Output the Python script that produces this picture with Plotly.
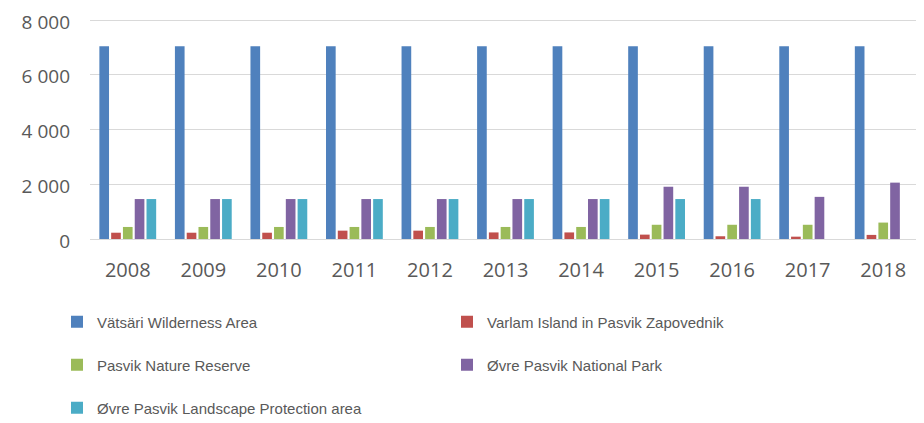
import plotly.graph_objects as go

years = ["2008", "2009", "2010", "2011", "2012", "2013", "2014", "2015", "2016", "2017", "2018"]
vatsari = [7040, 7040, 7040, 7040, 7040, 7040, 7040, 7040, 7040, 7040, 7040]
varlam = [230, 230, 230, 305, 305, 240, 240, 160, 100, 85, 150]
pasvik_nr = [440, 440, 440, 440, 440, 440, 440, 520, 520, 520, 600]
ovre_np = [1460, 1460, 1460, 1460, 1460, 1460, 1460, 1910, 1910, 1540, 2060]
ovre_lpa = [1460, 1460, 1460, 1460, 1460, 1460, 1460, 1460, 1460, None, None]
y_ticks = [0, 2000, 4000, 6000, 8000]

names = ["Vätsäri Wilderness Area", "Varlam Island in Pasvik Zapovednik",
         "Pasvik Nature Reserve", "Øvre Pasvik National Park",
         "Øvre Pasvik Landscape Protection area"]
colors = ["#4F81BD", "#C0504D", "#9BBB59", "#8064A2", "#4BACC6"]
series = [vatsari, varlam, pasvik_nr, ovre_np, ovre_lpa]
legends = ["legend", "legend", "legend2", "legend2", "legend3"]

fig = go.Figure()
for nm, col, vals, lg in zip(names, colors, series, legends):
    fig.add_trace(go.Bar(x=years, y=vals, name=nm, marker_color=col,
                         marker_line_width=0, legend=lg))

W, H = 916, 415  # page body has an 8px margin in the viewer
font_family = "Liberation Sans, Arial, sans-serif"
leg_common = dict(orientation="h", xref="container", yref="container",
                  x=49 / W, xanchor="left", yanchor="middle",
                  entrywidth=345, entrywidthmode="pixels",
                  font=dict(family=font_family, size=15, color="#595959"),
                  bgcolor="rgba(0,0,0,0)", itemclick=False)

fig.update_layout(
    width=W, height=H,
    margin=dict(l=82, r=3, t=11, b=184, autoexpand=False),
    paper_bgcolor="white", plot_bgcolor="white",
    barmode="group", bargap=0.22, bargroupgap=0.18,
    separators=". ",
    font=dict(family="Open Sans, sans-serif", color="#595959"),
    legend=dict(y=1 - 314 / H, **leg_common),
    legend2=dict(y=1 - 357 / H, **leg_common),
    legend3=dict(y=1 - 400 / H, **leg_common),
    xaxis=dict(showgrid=False, showline=False, ticks="", automargin=False,
               tickfont=dict(size=20, color="#595959"),
               ticklabelstandoff=17),
    yaxis=dict(range=[0, 8040], tickvals=y_ticks, automargin=False,
               tickformat=",d", showgrid=True, gridcolor="#D9D9D9",
               gridwidth=1, zeroline=True, zerolinecolor="#D9D9D9",
               zerolinewidth=1, showline=False, ticks="",
               tickfont=dict(size=19, color="#595959"),
               ticklabeloverflow="allow", ticklabelshift=2,
               ticklabelstandoff=19),
)

fig.write_html("out.html")
